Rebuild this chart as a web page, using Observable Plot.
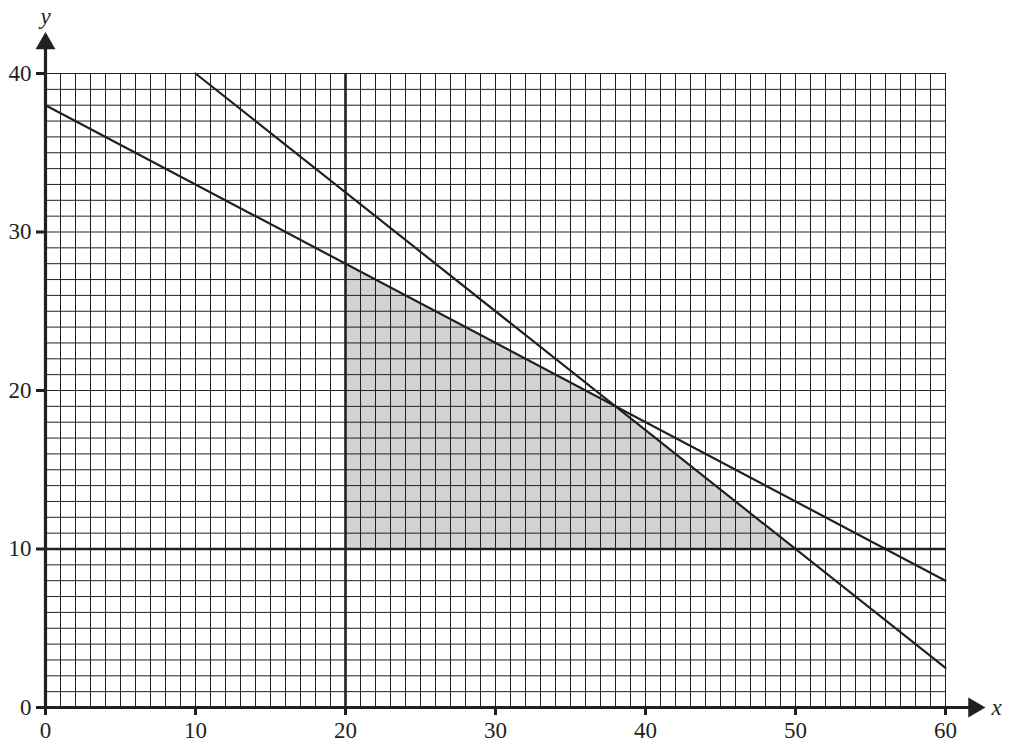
<!DOCTYPE html>
<html>
<head>
<meta charset="utf-8">
<script src="https://cdn.jsdelivr.net/npm/d3@7"></script>
<script src="https://cdn.jsdelivr.net/npm/@observablehq/plot@0.6"></script>
<style>
  html, body { margin: 0; padding: 0; background: #fff; }
  #chart svg { display: block; }
</style>
</head>
<body>
<div id="chart"></div>
<script>
// Domain and ticks
const xTicks = [0, 10, 20, 30, 40, 50, 60];
const yTicks = [0, 10, 20, 30, 40];
const gridX = d3.range(0, 61, 1);
const gridY = d3.range(0, 41, 1);

// Boundary lines (endpoints)
const line1 = [{x: 0, y: 38}, {x: 60, y: 8}];
const line2 = [{x: 10, y: 40}, {x: 60, y: 2.5}];
const vertical = [20];   // x = 20
const horizontal = [10]; // y = 10

// Shaded feasible region: upper boundary points, lower bound y = 10
const regionX = [20, 38, 50];
const regionTop = [28, 19, 10];
const regionBottom = 10;
const region = regionX.map((x, i) => ({x, y: regionTop[i]}));

// Axis extents, arrow heads and axis letters
const xAxisEnd = 61.6;
const yAxisEnd = 41.6;
const arrows = [
  {x: 61.9, y: 0, rotate: 90},
  {x: 0, y: 41.9, rotate: 0}
];
const axisLetters = [
  {x: 63.4, y: 0, text: "x"},
  {x: 0, y: 43.6, text: "y"}
];

const ink = "#231f20";
const serif = "'Liberation Serif', 'Times New Roman', serif";

const chart = Plot.plot({
  width: 1009,
  height: 751,
  marginLeft: 45,
  marginRight: 64,
  marginTop: 73,
  marginBottom: 44,
  x: {domain: [0, 60], ticks: xTicks},
  y: {domain: [0, 40], ticks: yTicks},
  style: {fontFamily: serif, fontSize: "23px", color: ink, background: "#fff", overflow: "visible"},
  marks: [
    Plot.areaY(region, {x: "x", y: "y", y1: regionBottom, fill: "#d3d3d6"}),
    Plot.ruleX(gridX, {y1: 0, y2: 40, stroke: ink, strokeWidth: 1}),
    Plot.ruleY(gridY, {x1: 0, x2: 60, stroke: ink, strokeWidth: 1}),
    Plot.ruleX(vertical, {y1: 0, y2: 40, stroke: ink, strokeWidth: 2.6}),
    Plot.ruleY(horizontal, {x1: 0, x2: 60, stroke: ink, strokeWidth: 2.6}),
    Plot.line(line1, {x: "x", y: "y", stroke: ink, strokeWidth: 2.2}),
    Plot.line(line2, {x: "x", y: "y", stroke: ink, strokeWidth: 2.2}),
    Plot.ruleY([0], {x1: 0, x2: xAxisEnd, stroke: ink, strokeWidth: 3.2}),
    Plot.ruleX([0], {y1: 0, y2: yAxisEnd, stroke: ink, strokeWidth: 3.2}),
    Plot.dot(arrows, {x: "x", y: "y", rotate: "rotate", symbol: "triangle2", r: 9.5, fill: ink, stroke: "none"}),
    Plot.axisX({ticks: xTicks, tickSize: 8, tickPadding: 6, strokeWidth: 3, stroke: ink, fontSize: 23, fontFamily: serif, label: null}),
    Plot.axisY({ticks: yTicks, tickSize: 9, tickPadding: 5, strokeWidth: 3, stroke: ink, fontSize: 23, fontFamily: serif, label: null}),
    Plot.text(axisLetters, {x: "x", y: "y", text: "text", fontStyle: "italic", fontSize: 23, fontFamily: serif, fill: ink, textAnchor: "middle"})
  ]
});

document.getElementById("chart").appendChild(chart);
</script>
</body>
</html>
